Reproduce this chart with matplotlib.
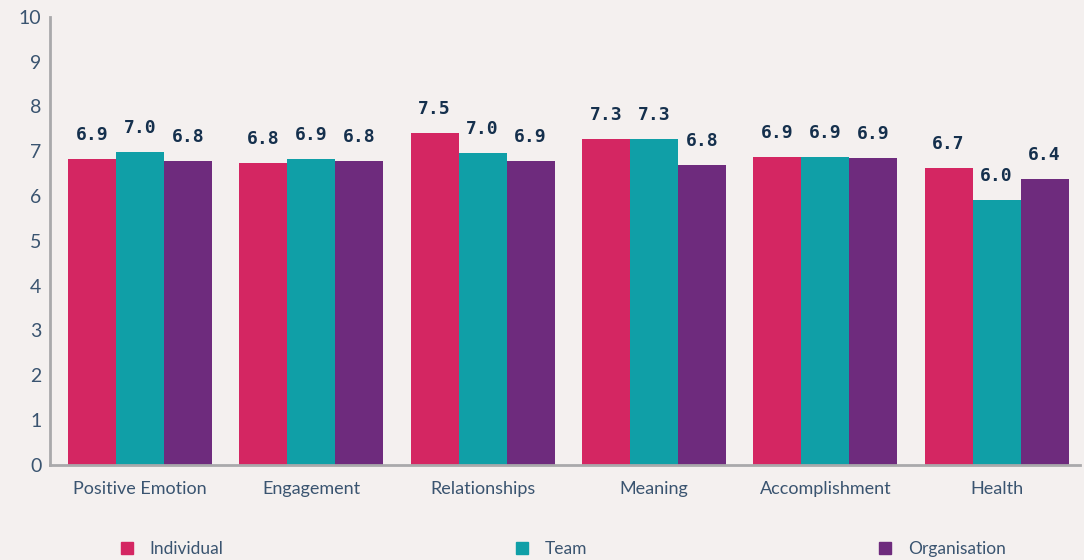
import matplotlib.pyplot as plt
import numpy as np
from matplotlib.lines import Line2D

categories = ["Positive Emotion", "Engagement", "Relationships", "Meaning", "Accomplishment", "Health"]
series = ["Individual", "Team", "Organisation"]
individual = [6.83, 6.74, 7.41, 7.28, 6.88, 6.63]
team = [6.99, 6.83, 6.96, 7.28, 6.88, 5.92]
organisation = [6.79, 6.79, 6.79, 6.70, 6.85, 6.38]
labels_individual = ["6.9", "6.8", "7.5", "7.3", "6.9", "6.7"]
labels_team = ["7.0", "6.9", "7.0", "7.3", "6.9", "6.0"]
labels_organisation = ["6.8", "6.8", "6.9", "6.8", "6.9", "6.4"]

colors = ["#d42662", "#109fa7", "#6e2b7d"]
bg = "#f4f0ef"
text_color = "#3a5470"
label_color = "#15304d"

plt.rcParams["font.family"] = ["Lato", "DejaVu Sans"]

fig = plt.figure(figsize=(10.84, 5.6), dpi=100, facecolor=bg)
ax = fig.add_axes([0.046, 0.170, 0.950, 0.800], facecolor=bg)

x = np.arange(len(categories))
w = 0.28
values = [individual, team, organisation]
labels = [labels_individual, labels_team, labels_organisation]
for i, (vals, labs) in enumerate(zip(values, labels)):
    pos = x + (i - 1) * w
    ax.bar(pos, vals, width=w, color=colors[i], zorder=2)
    for px, v, lab in zip(pos, vals, labs):
        ax.text(px, v + 0.33, lab, ha="center", va="bottom",
                fontsize=13, fontweight="bold", color=label_color,
                family="DejaVu Sans Mono")

ax.set_xlim(-0.526, 5.485)
ax.set_ylim(0, 10)
ax.set_yticks(range(0, 11))
ax.set_xticks(x)
ax.set_xticklabels(categories)
ax.tick_params(axis="x", length=0, labelsize=13, colors=text_color, pad=12)
ax.tick_params(axis="y", length=0, labelsize=14, colors=text_color, pad=6)
for s in ["top", "right"]:
    ax.spines[s].set_visible(False)
for s in ["left", "bottom"]:
    ax.spines[s].set_color("#a9a9ab")
    ax.spines[s].set_linewidth(2)

handles = [Line2D([], [], marker="s", linestyle="none", markersize=8,
                  color=c) for c in colors]
fig.legend(handles, series, loc="center left", bbox_to_anchor=(0.096, 0.020),
           ncol=3, frameon=False, fontsize=12.5, labelcolor=text_color,
           handlelength=0.8, handletextpad=0.9, columnspacing=16.8)

fig.savefig("out.png", dpi=100, facecolor=bg)
